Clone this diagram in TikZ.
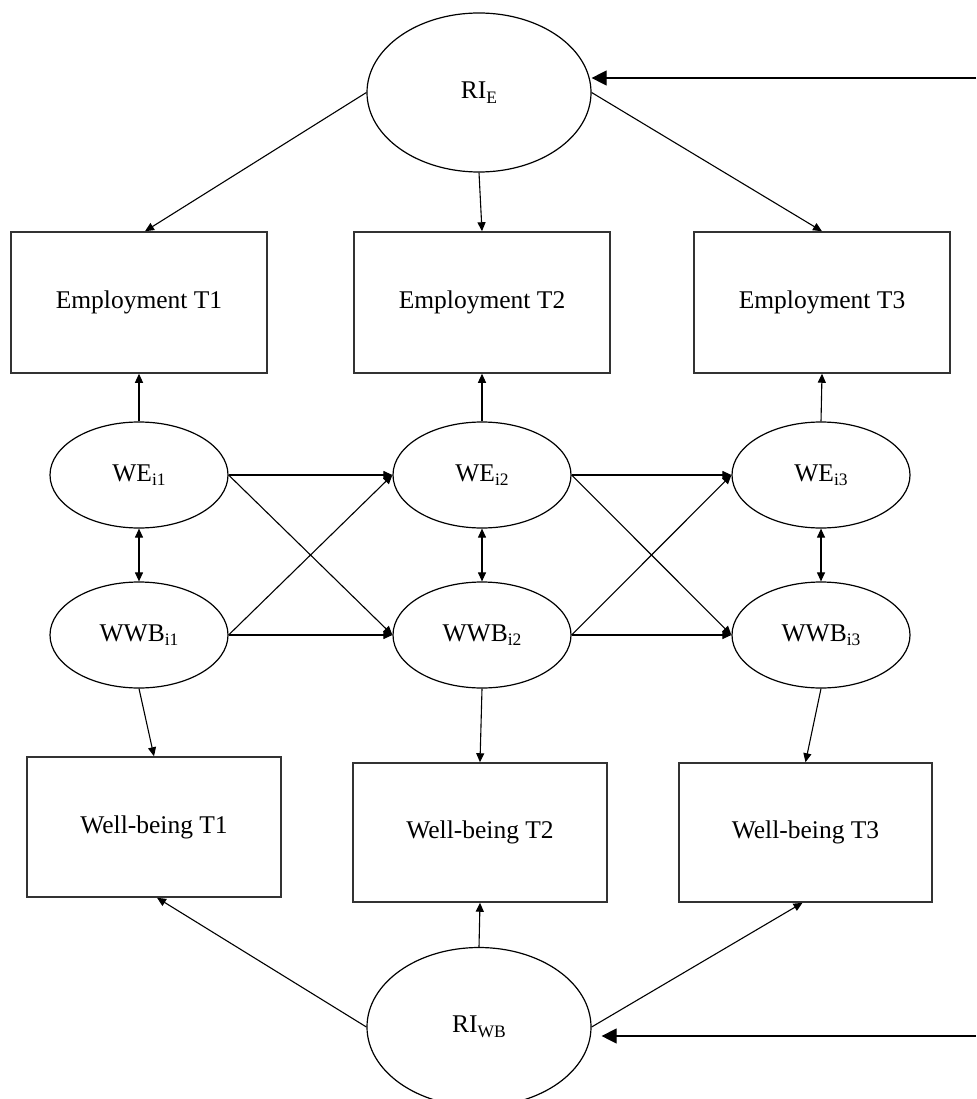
\documentclass[tikz,border=0pt]{standalone}
\usepackage{fontspec}
\setmainfont{Liberation Serif}
\usetikzlibrary{arrows.meta,shapes.geometric}
\newcommand\lowsub[1]{\raisebox{-4.5pt}{\fontsize{17.5}{17.5}\selectfont #1}}
\begin{document}
\begin{tikzpicture}[x=1pt,y=-1pt,
  font=\fontsize{25.5}{30}\selectfont,
  box/.style={draw=black!80, line width=1.5pt, minimum width=256pt, minimum height=141pt, inner sep=0pt},
  wbbox/.style={box, minimum width=254pt, minimum height=139pt},
  lat/.style={ellipse, draw, line width=1.2pt, minimum width=178pt, minimum height=106pt, inner sep=0pt},
  rand/.style={ellipse, draw, line width=1.2pt, minimum width=224pt, minimum height=159pt, inner sep=0pt},
  arr/.style={-{Triangle[length=9pt,width=8pt]}, line width=1.1pt},
  darr/.style={{Triangle[length=9pt,width=8pt]}-{Triangle[length=9pt,width=8pt]}, line width=1.1pt},
  bigarr/.style={-{Triangle[length=15pt,width=15pt]}, line width=1.2pt}]
\useasboundingbox (0,0) rectangle (976,1099);

\node[rand] (rie) at (479,92.5) {RI\lowsub{E}};
\node[box] (e1) at (139,302.5) {Employment T1};
\node[box] (e2) at (482,302.5) {Employment T2};
\node[box] (e3) at (822,302.5) {Employment T3};

\node[lat] (we1) at (139,475) {WE\lowsub{i1}};
\node[lat] (we2) at (482,475) {WE\lowsub{i2}};
\node[lat] (we3) at (821,475) {WE\lowsub{i3}};
\node[lat] (wwb1) at (139,635) {WWB\lowsub{i1}};
\node[lat] (wwb2) at (482,635) {WWB\lowsub{i2}};
\node[lat] (wwb3) at (821,635) {WWB\lowsub{i3}};

\node[wbbox, minimum height=140pt] (wb1) at (154,827) {Well-being T1};
\node[wbbox] (wb2) at (480,832.5) {Well-being T2};
\node[wbbox, minimum width=253pt] (wb3) at (805.5,832.5) {Well-being T3};

\node[rand] (riwb) at (479,1027) {RI\lowsub{WB}};

\coordinate (inE) at (976,78);
\coordinate (inW) at (976,1036);

% random intercepts
\draw[bigarr] (inE) -- (rie.east |- inE);
\draw[bigarr, shorten >=10pt] (inW) -- (riwb.east |- inW);
\draw[arr] (rie.west) -- ([xshift=6pt]e1.north);
\draw[arr] (rie.south) -- (e2.north);
\draw[arr] (rie.east) -- (e3.north);
\draw[arr] (riwb.west) -- ([xshift=3pt]wb1.south);
\draw[arr] (riwb.north) -- (wb2.south);
\draw[arr] (riwb.east) -- ([xshift=-3pt]wb3.south);

% within to observed
\draw[arr] (we1.north) -- (e1.south);
\draw[arr] (we2.north) -- (e2.south);
\draw[arr] (we3.north) -- (e3.south);
\draw[arr] (wwb1.south) -- (wb1.north);
\draw[arr] (wwb2.south) -- (wb2.north);
\draw[arr] (wwb3.south) -- (wb3.north);

% covariances
\draw[darr] (we1.south) -- (wwb1.north);
\draw[darr] (we2.south) -- (wwb2.north);
\draw[darr] (we3.south) -- (wwb3.north);

% cross-lagged
\draw[arr] (we1.east) -- (we2.west);
\draw[arr] (we1.east) -- (wwb2.west);
\draw[arr] (wwb1.east) -- (we2.west);
\draw[arr] (wwb1.east) -- (wwb2.west);
\draw[arr] (we2.east) -- (we3.west);
\draw[arr] (we2.east) -- (wwb3.west);
\draw[arr] (wwb2.east) -- (we3.west);
\draw[arr] (wwb2.east) -- (wwb3.west);
\end{tikzpicture}
\end{document}
